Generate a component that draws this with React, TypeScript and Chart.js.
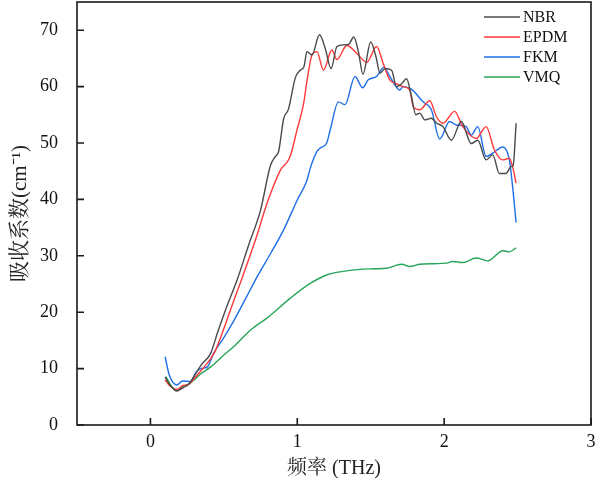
import { useEffect, useRef } from "react"
import { Chart, registerables } from "chart.js"

Chart.register(...registerables)

// frequencies (THz) and absorption coefficients (cm^-1)
const nbrFreq = [0.1, 0.13, 0.18, 0.22, 0.26, 0.3, 0.35, 0.41, 0.456, 0.52, 0.59, 0.67, 0.75, 0.817, 0.85, 0.873, 0.907, 0.94, 0.986, 1.02, 1.045, 1.066, 1.1, 1.151, 1.19, 1.23, 1.27, 1.314, 1.35, 1.385, 1.416, 1.447, 1.5, 1.536, 1.563, 1.597, 1.642, 1.676, 1.71, 1.744, 1.778, 1.807, 1.834, 1.868, 1.913, 1.95, 1.992, 2.049, 2.117, 2.184, 2.229, 2.286, 2.331, 2.376, 2.42, 2.456, 2.47, 2.49]
const nbrAbs = [8.5, 7.2, 6.0, 6.6, 7.2, 8.8, 10.8, 12.7, 16.3, 21.0, 25.7, 32.0, 38.1, 46.0, 47.6, 48.5, 54.3, 56.0, 61.5, 62.9, 63.5, 66.2, 65.6, 69.2, 66.8, 63.2, 67.1, 67.4, 67.5, 68.8, 66.2, 62.2, 67.9, 65.3, 62.4, 63.2, 62.9, 60.0, 60.5, 61.4, 58.2, 55.0, 55.3, 54.1, 54.4, 53.5, 52.9, 50.5, 53.8, 49.9, 50.5, 47.0, 47.9, 44.6, 44.6, 45.8, 46.0, 53.5]

const epdmFreq = [0.1, 0.13, 0.18, 0.22, 0.26, 0.3, 0.35, 0.433, 0.489, 0.56, 0.636, 0.72, 0.794, 0.885, 0.95, 1.0, 1.043, 1.066, 1.1, 1.134, 1.178, 1.235, 1.27, 1.337, 1.405, 1.473, 1.54, 1.585, 1.63, 1.676, 1.72, 1.766, 1.79, 1.834, 1.902, 1.947, 1.992, 2.071, 2.127, 2.218, 2.286, 2.342, 2.399, 2.444, 2.466, 2.49]
const epdmAbs = [8.0, 7.0, 6.3, 7.0, 7.2, 8.3, 9.8, 12.7, 16.3, 21.5, 26.9, 33.2, 39.3, 45.2, 47.5, 52.5, 57.0, 61.0, 65.6, 66.2, 62.9, 66.5, 64.8, 67.3, 65.9, 64.3, 67.1, 64.1, 61.2, 60.5, 60.0, 59.4, 56.4, 55.9, 57.5, 54.7, 53.5, 55.6, 52.9, 50.8, 52.9, 48.8, 47.0, 47.3, 45.8, 42.9]

const fkmFreq = [0.1, 0.128, 0.18, 0.218, 0.275, 0.31, 0.342, 0.388, 0.43, 0.5, 0.57, 0.65, 0.727, 0.82, 0.907, 1.0, 1.066, 1.088, 1.134, 1.156, 1.2, 1.224, 1.28, 1.325, 1.393, 1.445, 1.483, 1.54, 1.59, 1.63, 1.698, 1.72, 1.778, 1.856, 1.913, 1.97, 2.037, 2.083, 2.15, 2.184, 2.229, 2.286, 2.331, 2.399, 2.444, 2.466, 2.49]
const fkmAbs = [12.1, 8.9, 7.1, 7.8, 7.7, 9.3, 10.0, 10.3, 12.7, 15.5, 18.6, 22.5, 26.3, 30.5, 34.6, 39.9, 43.4, 45.5, 48.5, 49.1, 50.0, 52.3, 57.3, 56.8, 61.8, 59.8, 61.2, 61.8, 63.4, 61.8, 59.4, 60.0, 59.5, 57.3, 55.9, 50.7, 53.8, 53.2, 52.9, 51.4, 52.9, 47.6, 48.2, 49.3, 47.0, 42.3, 35.9]

const vmqFreq = [0.105, 0.14, 0.173, 0.22, 0.275, 0.34, 0.41, 0.5, 0.568, 0.68, 0.795, 0.953, 1.088, 1.2, 1.3, 1.427, 1.52, 1.608, 1.71, 1.766, 1.834, 1.93, 2.015, 2.06, 2.127, 2.218, 2.297, 2.4, 2.444, 2.49]
const vmqAbs = [8.6, 7.0, 6.1, 6.8, 7.5, 9.0, 10.3, 12.4, 13.9, 16.8, 19.0, 22.5, 25.1, 26.6, 27.2, 27.6, 27.7, 27.8, 28.5, 28.1, 28.5, 28.6, 28.7, 29.0, 28.8, 29.6, 29.1, 30.9, 30.7, 31.4]

const seriesNames = ["NBR", "EPDM", "FKM", "VMQ"]
const seriesColors = ["#4a4a4a", "#ff3838", "#1e6ee8", "#27a55a"]

const xTicks = [0, 1, 2, 3]
const yTicks = [0, 10, 20, 30, 40, 50, 60, 70]

const serif = "'Liberation Serif', 'Times New Roman', serif"
const cjkSerif = "'Liberation Serif', 'Noto Serif CJK SC', 'Noto Sans CJK SC', serif"

const toPoints = (xs: number[], ys: number[]) => xs.map((x, i) => ({ x, y: ys[i] }))

// box frame, inward ticks and the legend in the upper right corner
const framePlugin = {
  id: "frame",
  afterDraw(chart: any) {
    const { ctx, chartArea: a, scales } = chart
    ctx.save()
    ctx.strokeStyle = "#1a1a1a"
    ctx.lineWidth = 1.6
    ctx.strokeRect(a.left, a.top, a.right - a.left, a.bottom - a.top)
    ctx.beginPath()
    xTicks.forEach((t) => {
      const px = scales.x.getPixelForValue(t)
      ctx.moveTo(px, a.bottom)
      ctx.lineTo(px, a.bottom - 7)
    })
    yTicks.forEach((t) => {
      const py = scales.y.getPixelForValue(t)
      ctx.moveTo(a.left, py)
      ctx.lineTo(a.left + 7, py)
    })
    ctx.stroke()

    ctx.font = "16px " + serif
    ctx.textBaseline = "middle"
    ctx.textAlign = "left"
    seriesNames.forEach((name, i) => {
      const y = a.top + 15 + i * 20
      ctx.strokeStyle = seriesColors[i]
      ctx.lineWidth = 1.5
      ctx.beginPath()
      ctx.moveTo(484, y)
      ctx.lineTo(520, y)
      ctx.stroke()
      ctx.fillStyle = "#111"
      ctx.fillText(name, 523, y + 1)
    })
    ctx.restore()
  },
}

function AbsorptionChart() {
  const chartRef = useRef<HTMLCanvasElement>(null)
  const chartInstance = useRef<Chart | null>(null)

  useEffect(() => {
    if (!chartRef.current) return
    if (chartInstance.current) chartInstance.current.destroy()
    const ctx = chartRef.current.getContext("2d")
    if (!ctx) return

    const allFreq = [nbrFreq, epdmFreq, fkmFreq, vmqFreq]
    const allAbs = [nbrAbs, epdmAbs, fkmAbs, vmqAbs]

    chartInstance.current = new Chart(ctx, {
      type: "line",
      data: {
        datasets: seriesNames.map((name, i) => ({
          label: name,
          data: toPoints(allFreq[i], allAbs[i]),
          borderColor: seriesColors[i],
          borderWidth: 1.4,
          pointRadius: 0,
          fill: false,
          cubicInterpolationMode: "monotone" as const,
        })),
      },
      options: {
        animation: false,
        responsive: true,
        maintainAspectRatio: false,
        layout: { autoPadding: false, padding: { top: 2, right: 7, left: 0, bottom: 0 } },
        plugins: { legend: { display: false }, tooltip: { enabled: false } },
        scales: {
          x: {
            type: "linear",
            min: -0.5,
            max: 3,
            afterBuildTicks: (s: any) => {
              s.ticks = xTicks.map((v) => ({ value: v }))
            },
            afterFit: (s: any) => {
              s.height = 64
              s.paddingLeft = 0
              s.paddingRight = 0
            },
            grid: { display: false, drawTicks: false },
            border: { display: false },
            ticks: { font: { size: 18, family: serif }, color: "#111", padding: 6 },
            title: {
              display: true,
              text: "频率 (THz)",
              font: { size: 20, family: cjkSerif },
              color: "#222",
              padding: { top: 0, bottom: 8 },
            },
          },
          y: {
            type: "linear",
            min: 0,
            max: 75,
            afterBuildTicks: (s: any) => {
              s.ticks = yTicks.map((v) => ({ value: v }))
            },
            afterFit: (s: any) => {
              s.width = 77
              s.paddingTop = 0
              s.paddingBottom = 0
            },
            grid: { display: false, drawTicks: false },
            border: { display: false },
            ticks: { font: { size: 18, family: serif }, color: "#111", padding: 19 },
            title: {
              display: true,
              text: "吸收系数(cm⁻¹)",
              font: { size: 21, family: cjkSerif },
              color: "#222",
              padding: { top: 8, bottom: 0 },
            },
          },
        },
      },
      plugins: [framePlugin],
    })

    return () => {
      if (chartInstance.current) {
        chartInstance.current.destroy()
        chartInstance.current = null
      }
    }
  }, [])

  return (
    <div style={{ width: 598, height: 489, position: "relative" }}>
      <canvas ref={chartRef} />
    </div>
  )
}

export default function App() {
  useEffect(() => {
    document.body.style.margin = "0"
  }, [])
  return <AbsorptionChart />
}
